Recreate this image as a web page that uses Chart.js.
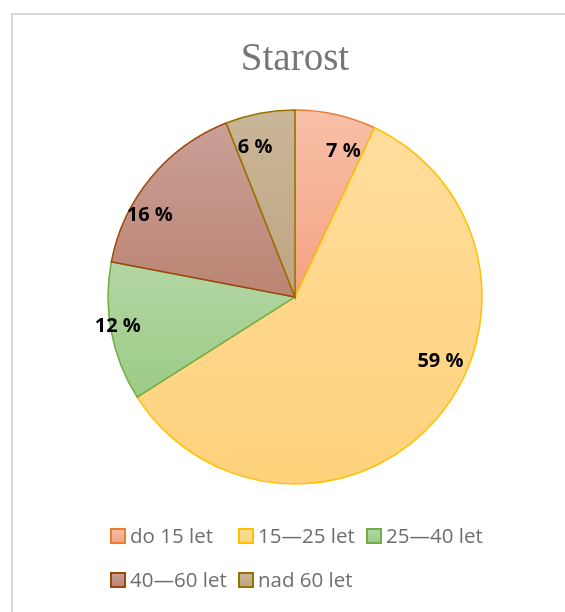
<!DOCTYPE html>
<html>
<head>
<meta charset="utf-8">
<script src="https://cdn.jsdelivr.net/npm/chart.js@4.4.0/dist/chart.umd.min.js"></script>
<style>
  html, body { margin: 0; padding: 0; background: #fff; }
  #wrap { position: relative; width: 565px; height: 612px; overflow: hidden; }
  .card {
    position: absolute; left: 11px; top: 13px; width: 600px; height: 650px;
    border-left: 2px solid #d9d9d9; border-top: 2px solid #d9d9d9;
  }
  #ageChart { position: absolute; left: 0; top: 0; }
</style>
</head>
<body>
<div id="wrap">
  <div class="card"></div>
  <canvas id="ageChart" width="565" height="612"></canvas>
</div>
<script>
// data
const categories = ['do 15 let', '15—25 let', '25—40 let', '40—60 let', 'nad 60 let'];
const shares = [7, 59, 12, 16, 6];
const percentLabels = ['7 %', '59 %', '12 %', '16 %', '6 %'];

// styling
const topColors = ['#f7c0a7', '#ffdd9c', '#b3d6a3', '#c9a097', '#c9b698'];
const bottomColors = ['#f3a282', '#ffd27c', '#9ccb87', '#bc8474', '#bfa581'];
const edgeColors = ['#ed7d31', '#ffc000', '#70ad47', '#9e480e', '#997300'];
const PIE_R = 187;

// vertical extent of one slice, so every slice gets its own top-to-bottom gradient
function sliceSpan(chart, i) {
  const area = chart.chartArea;
  const cy = (area.top + area.bottom) / 2;
  const total = shares.reduce((a, b) => a + b, 0);
  let start = -Math.PI / 2;
  for (let k = 0; k < i; k++) start += shares[k] / total * Math.PI * 2;
  const end = start + shares[i] / total * Math.PI * 2;
  const ys = [cy, cy + PIE_R * Math.sin(start), cy + PIE_R * Math.sin(end)];
  [-Math.PI / 2, Math.PI / 2, Math.PI * 1.5].forEach(a => {
    if (a >= start && a <= end) ys.push(cy + PIE_R * Math.sin(a));
  });
  return [Math.min(...ys), Math.max(...ys)];
}

function sliceFill(context) {
  const chart = context.chart;
  const i = context.dataIndex;
  if (!chart.chartArea) return topColors[i];
  const [y0, y1] = sliceSpan(chart, i);
  const g = chart.ctx.createLinearGradient(0, y0, 0, y1);
  g.addColorStop(0, topColors[i]);
  g.addColorStop(1, bottomColors[i]);
  return g;
}

const sliceLabels = {
  id: 'sliceLabels',
  afterDatasetsDraw(chart, args, opts) {
    const ctx = chart.ctx;
    const meta = chart.getDatasetMeta(0);
    ctx.save();
    ctx.font = opts.font;
    ctx.fillStyle = opts.color;
    ctx.textAlign = 'center';
    ctx.textBaseline = 'middle';
    meta.data.forEach((arc, i) => {
      const p = opts.placement[i];
      const a = arc.startAngle + (arc.endAngle - arc.startAngle) * p.along;
      const r = arc.outerRadius * p.radial;
      ctx.fillText(percentLabels[i], arc.x + r * Math.cos(a), arc.y + r * Math.sin(a));
    });
    ctx.restore();
  }
};

// office style legend: fixed column grid
const gridLegend = {
  id: 'gridLegend',
  afterDraw(chart, args, opts) {
    const ctx = chart.ctx;
    ctx.save();
    ctx.font = opts.font;
    ctx.textBaseline = 'middle';
    ctx.textAlign = 'left';
    categories.forEach((name, i) => {
      const col = i % opts.perRow;
      const row = Math.floor(i / opts.perRow);
      const x = opts.left + col * opts.colWidth;
      const y = opts.top + row * opts.rowHeight;
      const s = opts.box;
      const g = ctx.createLinearGradient(0, y - s / 2, 0, y + s / 2);
      g.addColorStop(0, topColors[i]);
      g.addColorStop(1, bottomColors[i]);
      ctx.fillStyle = g;
      ctx.fillRect(x, y - s / 2, s, s);
      ctx.strokeStyle = edgeColors[i];
      ctx.lineWidth = 2;
      ctx.strokeRect(x, y - s / 2, s, s);
      ctx.fillStyle = opts.color;
      ctx.fillText(name, x + s + 5, y + 1);
    });
    ctx.restore();
  }
};

new Chart(document.getElementById('ageChart').getContext('2d'), {
  type: 'pie',
  data: {
    labels: categories,
    datasets: [{
      data: shares,
      backgroundColor: sliceFill,
      borderColor: edgeColors,
      borderWidth: 1.5,
      borderJoinStyle: 'miter',
      hoverOffset: 0
    }]
  },
  options: {
    responsive: false,
    animation: false,
    devicePixelRatio: 1,
    radius: PIE_R,
    layout: { padding: { left: 100, right: 75, top: 0, bottom: 119 } },
    plugins: {
      title: {
        display: true,
        text: 'Starost',
        color: '#767676',
        font: { family: '"Liberation Serif", "Times New Roman", serif', size: 39, weight: 'normal', lineHeight: 1.2 },
        padding: { top: 36, bottom: 18 }
      },
      legend: { display: false },
      tooltip: { enabled: false },
      sliceLabels: {
        font: 'bold 20px "Open Sans", sans-serif',
        color: '#000',
        placement: [
          { along: 0.73, radial: 0.82 },
          { along: 0.417, radial: 0.85 },
          { along: 0.535, radial: 0.96 },
          { along: 0.32, radial: 0.89 },
          { along: 0.31, radial: 0.83 }
        ]
      },
      gridLegend: {
        font: '20.5px "Open Sans", sans-serif',
        color: '#6e6e6e',
        left: 111, top: 536, colWidth: 128, rowHeight: 44, perRow: 3, box: 14
      }
    }
  },
  plugins: [sliceLabels, gridLegend]
});
</script>
</body>
</html>
